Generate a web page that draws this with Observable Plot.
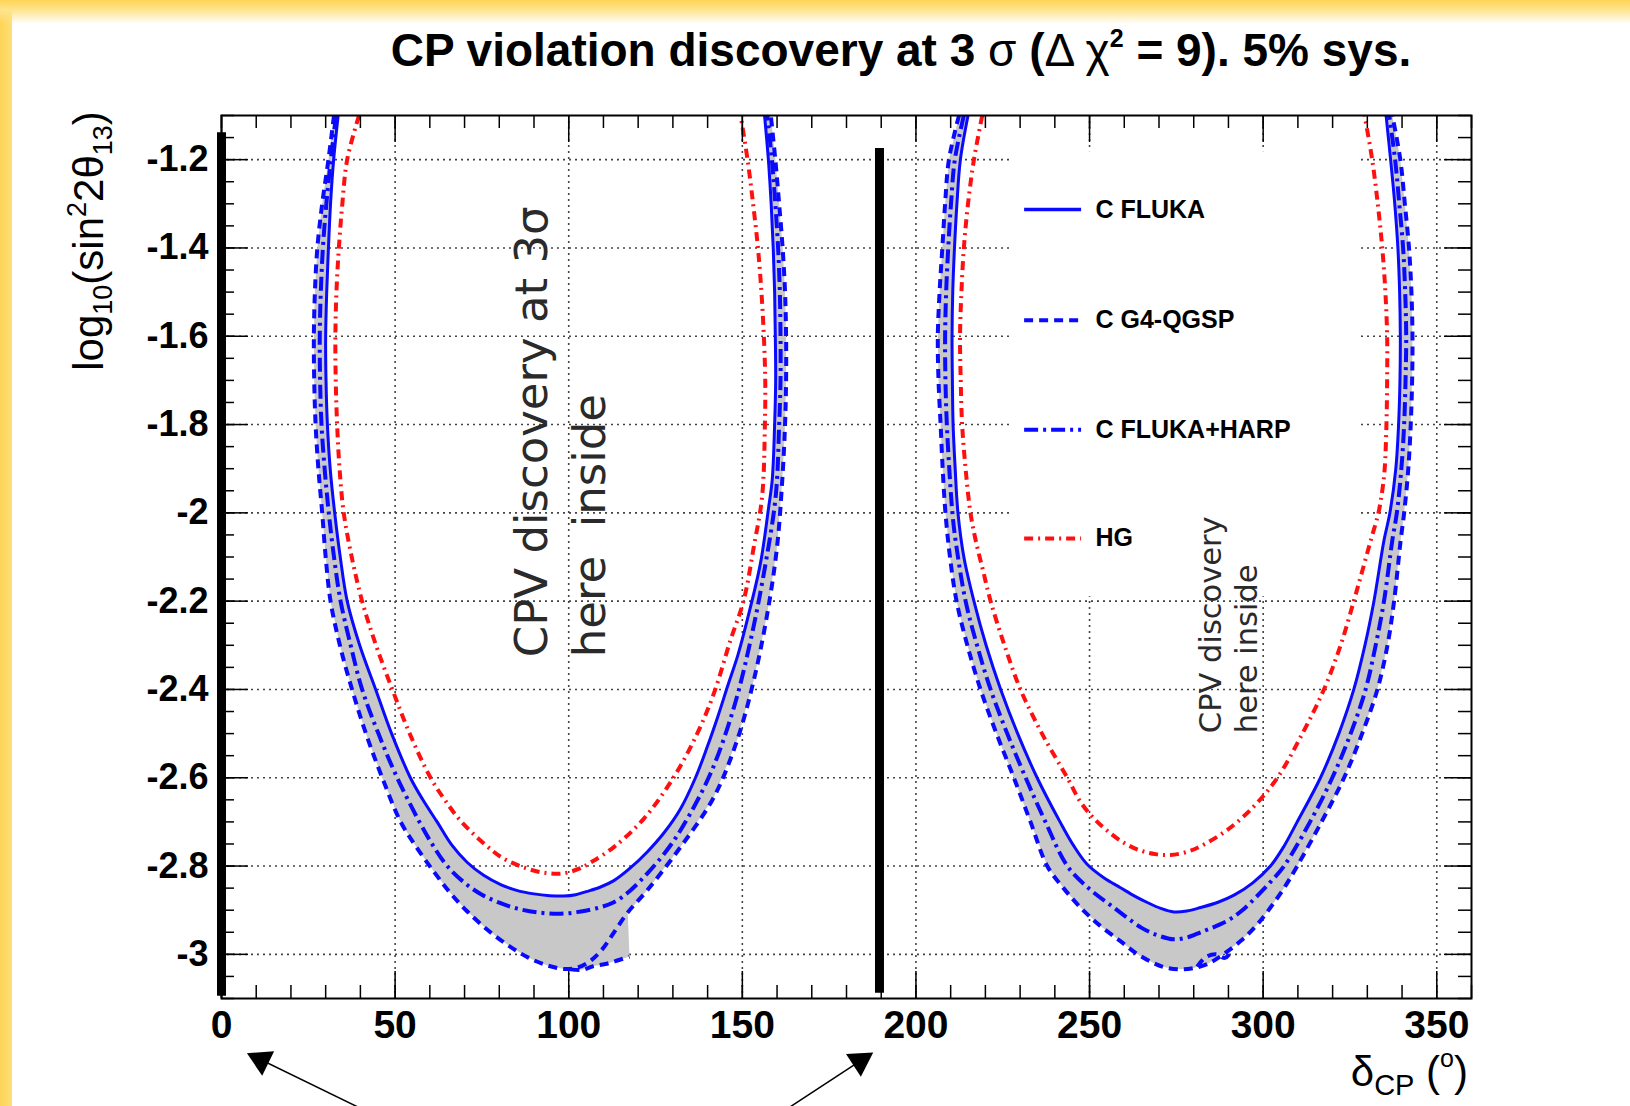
<!DOCTYPE html>
<html><head><meta charset="utf-8">
<script src="https://cdn.jsdelivr.net/npm/d3@7"></script>
<script src="https://cdn.jsdelivr.net/npm/@observablehq/plot@0.6"></script>
<style>
body{margin:0;background:#fff;}
#page{position:relative;width:1630px;height:1106px;overflow:hidden;background:#fff;font-family:"Liberation Sans",Arial,sans-serif;}
#bleft{position:absolute;left:0;top:0;width:12px;height:1106px;background:linear-gradient(to right,#fdd455,#fedf78);z-index:2;}
#btop{position:absolute;left:0;top:0;width:1630px;height:24px;background:linear-gradient(to bottom,#fdd455 0%,#fee48c 40%,rgba(255,255,255,0) 100%);z-index:2;}
#title{position:relative;height:90px;}
#title span{position:absolute;left:0;top:27px;width:1802px;text-align:center;font-size:46px;line-height:46px;font-weight:bold;color:#000;white-space:nowrap;}
#title .n{font-weight:normal;}
#title sup{font-size:25px;position:relative;top:-19px;vertical-align:baseline;}
#chart svg{display:block;}
</style></head>
<body>
<div id="page">
<div id="bleft"></div><div id="btop"></div>
<div id="title"><span>CP violation discovery at 3 <span class="n" style="position:static;font-size:46px">σ</span> (<span class="n" style="position:static;font-size:46px">Δ χ</span><sup>2</sup> = 9). 5% sys.</span></div>
<div id="chart"></div>
</div>
<script>
// ---------- data (δCP in degrees, log10(sin²2θ13)) ----------
const xTicks = [0, 50, 100, 150, 200, 250, 300, 350];
const yTicks = [-3, -2.8, -2.6, -2.4, -2.2, -2, -1.8, -1.6, -1.4, -1.2];
const xGrid = [50, 100, 150, 200, 250, 300, 350];
const yGrid = [-3, -2.8, -2.6, -2.4, -2.2, -2, -1.8, -1.6, -1.4, -1.2];

// C FLUKA (solid)
const flukaL = [[33.6,-1.1],[32.3,-1.2],[31.4,-1.3],[30.8,-1.4],[30.3,-1.5],[30.0,-1.6],[30.1,-1.7],[30.5,-1.8],[31.3,-1.9],[32.6,-2.0],[34.2,-2.1],[36.2,-2.2],[39.8,-2.3],[44.4,-2.4],[49.0,-2.5],[54.4,-2.6],[58.0,-2.65],[62.1,-2.7],[66.3,-2.752],[70.8,-2.792],[75.5,-2.821],[80.4,-2.842],[85.0,-2.855],[90.0,-2.863],[94.5,-2.867],[98.6,-2.868],[102,-2.865],[105,-2.858],[109,-2.848],[113,-2.833],[117.5,-2.806],[122.6,-2.768],[127.5,-2.724],[132.2,-2.67],[136.5,-2.6],[139.9,-2.53],[143,-2.46],[145.7,-2.394],[148.8,-2.32],[151.4,-2.243],[155.2,-2.115],[157.6,-1.986],[158.6,-1.926],[159.3,-1.8],[159.6,-1.7],[159.5,-1.6],[159.3,-1.5],[158.9,-1.4],[158.3,-1.3],[157.5,-1.2],[156.4,-1.1]];
const flukaR = [[215.0,-1.1],[212.8,-1.2],[211.8,-1.3],[211.1,-1.4],[210.6,-1.5],[210.4,-1.6],[210.5,-1.7],[210.7,-1.8],[211.3,-1.9],[212.1,-2.0],[213.8,-2.1],[216.7,-2.2],[220.2,-2.3],[224.4,-2.4],[229.3,-2.5],[234.9,-2.6],[241.5,-2.7],[245.5,-2.755],[249.3,-2.796],[254.0,-2.826],[258.9,-2.849],[263.0,-2.868],[266.5,-2.882],[270.5,-2.896],[274.3,-2.904],[278.0,-2.902],[282.0,-2.894],[287.0,-2.882],[291.6,-2.866],[297.0,-2.838],[302.1,-2.8],[306.0,-2.755],[309.8,-2.7],[316.5,-2.6],[321.8,-2.5],[326.1,-2.4],[329.3,-2.3],[331.9,-2.2],[334.8,-2.062],[336.5,-2.0],[338.2,-1.9],[339.0,-1.8],[339.4,-1.7],[339.5,-1.6],[339.3,-1.5],[338.8,-1.4],[337.9,-1.3],[336.7,-1.2],[335.4,-1.1]];

// C G4-QGSP (dashed)
const g4L = [[32.4,-1.1],[30.8,-1.2],[29.0,-1.3],[27.6,-1.4],[26.9,-1.5],[26.6,-1.6],[26.7,-1.7],[27.1,-1.8],[27.9,-1.9],[29.0,-2.0],[30.0,-2.1],[31.4,-2.2],[34.1,-2.3],[37.6,-2.4],[41.6,-2.5],[46.3,-2.6],[51.6,-2.7],[56.2,-2.758],[61.1,-2.812],[65.8,-2.86],[70.8,-2.903],[77.0,-2.947],[83.2,-2.983],[88.5,-3.008],[93.8,-3.025],[98.6,-3.033],[102.5,-3.03],[106,-3.016],[109.5,-2.99],[113,-2.951],[117,-2.905],[122.6,-2.855],[132.2,-2.757],[141.8,-2.644],[148.5,-2.515],[153.3,-2.379],[157.2,-2.228],[160,-2.077],[161.5,-1.926],[162.3,-1.8],[162.6,-1.7],[162.6,-1.6],[162.3,-1.5],[161.6,-1.4],[160.6,-1.3],[159.5,-1.2],[158.2,-1.1]];
const g4TailL = [[100.5,-3.034],[104,-3.035],[107,-3.027],[110.5,-3.022],[114,-3.014],[117.5,-3.005]];
const g4R = [[212.4,-1.1],[209.5,-1.2],[208.4,-1.3],[207.6,-1.4],[206.8,-1.5],[206.3,-1.6],[206.5,-1.7],[207.1,-1.8],[207.7,-1.9],[208.5,-2.0],[209.8,-2.1],[211.7,-2.2],[214.8,-2.3],[218.6,-2.4],[223.2,-2.5],[228.2,-2.6],[233.0,-2.7],[237.8,-2.8],[242.5,-2.85],[247.4,-2.894],[253.0,-2.935],[258.9,-2.970],[263.5,-2.998],[268.5,-3.02],[272.0,-3.03],[276.2,-3.034],[280.0,-3.031],[283.9,-3.022],[288.5,-3.0],[293.5,-2.970],[298.0,-2.935],[302.1,-2.894],[306.0,-2.85],[309.8,-2.8],[316.8,-2.7],[323.3,-2.6],[328.5,-2.5],[332.9,-2.4],[335.8,-2.3],[337.7,-2.2],[339.6,-2.062],[340.6,-2.0],[341.8,-1.9],[342.5,-1.8],[342.9,-1.7],[343.0,-1.6],[342.7,-1.5],[342.0,-1.4],[340.8,-1.3],[339.5,-1.2],[337.2,-1.1]];
const g4TailR = [[281.0,-3.028],[283.5,-3.006],[286.5,-3.0],[289.0,-3.008],[291.0,-2.992]];

// C FLUKA+HARP (dash-dot)
const harpL = [[33.0,-1.1],[31.5,-1.2],[30.2,-1.3],[29.2,-1.4],[28.6,-1.5],[28.3,-1.6],[28.4,-1.7],[28.8,-1.8],[29.7,-1.9],[30.9,-2.0],[32.4,-2.1],[34.3,-2.2],[37.2,-2.3],[40.5,-2.4],[45.2,-2.5],[50.6,-2.6],[57.0,-2.7],[60.8,-2.752],[65.0,-2.8],[70.0,-2.838],[75.0,-2.865],[80.0,-2.883],[85.0,-2.896],[91.0,-2.905],[97.6,-2.908],[103.5,-2.903],[109.2,-2.893],[113,-2.882],[117.5,-2.857],[122.6,-2.817],[127.5,-2.772],[132.2,-2.719],[140.8,-2.591],[147.6,-2.44],[152.4,-2.288],[156.2,-2.137],[159.6,-1.963],[160.6,-1.8],[161.0,-1.7],[161.0,-1.6],[160.8,-1.5],[160.3,-1.4],[159.5,-1.3],[158.5,-1.2],[157.2,-1.1]];
const harpR = [[213.8,-1.1],[211.2,-1.2],[210.1,-1.3],[209.3,-1.4],[208.7,-1.5],[208.4,-1.6],[208.5,-1.7],[208.9,-1.8],[209.6,-1.9],[210.5,-2.0],[211.4,-2.062],[214.3,-2.2],[217.6,-2.3],[221.5,-2.4],[226.3,-2.5],[231.6,-2.6],[237.3,-2.7],[243.6,-2.8],[250.0,-2.852],[257.0,-2.894],[265.0,-2.94],[270.0,-2.958],[274.3,-2.966],[278.0,-2.962],[282.0,-2.95],[289.7,-2.924],[294.0,-2.9],[298.0,-2.87],[302.0,-2.837],[306.0,-2.8],[313.5,-2.7],[319.9,-2.6],[325.2,-2.5],[329.5,-2.4],[332.4,-2.3],[334.8,-2.2],[337.2,-2.062],[338.5,-2.0],[339.8,-1.9],[340.6,-1.8],[341.0,-1.7],[341.2,-1.6],[340.9,-1.5],[340.3,-1.4],[339.2,-1.3],[338.0,-1.2],[336.3,-1.1]];

// HG (red dash-dot-dot)
const hgL = [[39.6,-1.1],[36.2,-1.2],[34.8,-1.3],[33.8,-1.4],[33.1,-1.5],[32.8,-1.6],[32.9,-1.7],[33.3,-1.8],[34.0,-1.9],[35.2,-2.0],[37.5,-2.1],[40.5,-2.2],[44.5,-2.3],[49.2,-2.4],[54.2,-2.5],[60.2,-2.6],[64.3,-2.65],[68.8,-2.697],[76.0,-2.752],[81.0,-2.782],[86.0,-2.8],[92.0,-2.814],[98.0,-2.817],[103,-2.806],[106.3,-2.792],[113,-2.757],[121.6,-2.693],[130.3,-2.598],[137,-2.5],[141.8,-2.409],[146.6,-2.288],[150.4,-2.198],[153.3,-2.077],[155.7,-1.963],[156.5,-1.8],[156.6,-1.7],[156.2,-1.6],[155.5,-1.5],[154.5,-1.4],[153.1,-1.3],[151.5,-1.2],[149.5,-1.1]];
const hgR = [[219.1,-1.1],[216.7,-1.2],[215.0,-1.3],[213.8,-1.4],[213.1,-1.5],[212.7,-1.6],[212.9,-1.7],[213.3,-1.8],[214.3,-1.9],[215.7,-2.0],[217.2,-2.062],[219.3,-2.13],[221.5,-2.2],[225.5,-2.3],[230.1,-2.4],[236.3,-2.5],[243.6,-2.6],[247.4,-2.655],[251.0,-2.69],[255.1,-2.72],[260.0,-2.748],[264.7,-2.765],[269.0,-2.773],[273.3,-2.775],[278.0,-2.768],[282.0,-2.755],[289.7,-2.718],[297.3,-2.665],[304.1,-2.6],[311.3,-2.5],[317.5,-2.4],[322.3,-2.3],[326.1,-2.2],[328.6,-2.13],[331.0,-2.062],[333.2,-2.0],[334.3,-1.95],[335.0,-1.9],[335.5,-1.8],[335.7,-1.7],[335.7,-1.6],[335.2,-1.5],[334.3,-1.4],[333.0,-1.3],[331.4,-1.2],[329.2,-1.1]];

// legend entries
const legendNames = ["C FLUKA", "C G4-QGSP", "C FLUKA+HARP", "HG"];
const legendRowY = [-1.313, -1.564, -1.812, -2.058];

// vertical black markers (δCP = 0 and ≈190)
const markerX = [0, 189.5];
const markerTop = [-1.139, -1.175];
const markerBottom = [-3.095, -3.088];

// annotations
const noteBig = ["CPV discovery at 3σ", "here  inside"];
const noteSmall = ["CPV discovery", "here inside"];

// ---------- layout ----------
const W = 1630, H = 1016, mT = 25, mB = 108, mL = 221, mR = 159;
const plotH = H - mT - mB, plotW = W - mL - mR;
const BLUE = "#0a0aff", RED = "#ff1010", GRAY = "#c8c8c8";

const rows = (arr, lobe) => arr.map(([x, y]) => ({x, y, lobe}));
const fluka = [...rows(flukaL, "L"), ...rows(flukaR, "R")];
const g4 = [...rows(g4L, "L"), ...rows(g4R, "R"), ...rows(g4TailL, "TL"), ...rows(g4TailR, "TR")];
const harp = [...rows(harpL, "L"), ...rows(harpR, "R")];
const hg = [...rows(hgL, "L"), ...rows(hgR, "R")];

// grey band between the outer dashed contour (incl. its lower tail) and the solid contour
const iMin = g4L.findIndex(p => p[0] === 98.6);
const iUp = g4L.findIndex(p => p[0] === 117);
const edgeL = [...g4L.slice(0, iMin + 1), ...g4TailL, ...g4L.slice(iUp)];
const band = [...rows([...edgeL, ...flukaL.slice().reverse()], "L"), ...rows([...g4R, ...flukaR.slice().reverse()], "R")];

const legend = legendNames.map((name, i) => ({name, y: legendRowY[i]}));
const legX1 = 231.3, legX2 = 247.7, legTX = 251.7;
const markers = markerX.map((x, i) => ({x, y1: markerTop[i], y2: markerBottom[i]}));
const xMinor = d3.range(0, 37).map(i => i * 10);
const yMinor = d3.range(0, 41).map(i => -3.1 + i * 0.05);
const arrows = [{x1: 45.6, y1: -3.37, x2: 8.84, y2: -3.229, hx: 11.4, hy: -3.2395, rot: -64},
                {x1: 159.0, y1: -3.37, x2: 186.4, y2: -3.229, hx: 183.9, hy: -3.2419, rot: 57}];

const line = (data, o) => Plot.line(data, {x: "x", y: "y", z: "lobe", curve: "catmull-rom", clip: true, strokeLinecap: "butt", ...o});
const grid = {stroke: "#444", strokeWidth: 1.6, strokeDasharray: "2,4"};

const chart = Plot.plot({
  width: W, height: H, marginTop: mT, marginBottom: mB, marginLeft: mL, marginRight: mR,
  style: {fontFamily: "Liberation Sans, Arial, sans-serif", fontSize: "36px", fontWeight: "bold", background: "transparent", color: "#000"},
  x: {domain: [0, 360], ticks: xTicks, tickSize: 0, tickPadding: 12, tickFormat: d => String(d), label: null},
  y: {domain: [-3.1, -1.1], ticks: yTicks, tickSize: 0, tickPadding: 13, tickFormat: d => String(+(+d).toFixed(1)), label: null},
  marks: [
    Plot.ruleX(xGrid, grid),
    Plot.ruleY(yGrid, grid),
    Plot.line(band, {x: "x", y: "y", z: "lobe", fill: GRAY, stroke: "none", curve: "linear", clip: true}),
    Plot.rect([0], {x1: () => 228, x2: () => 327.6, y1: () => -1.182, y2: () => -2.19, fill: "white"}),
    line(hg, {stroke: RED, strokeWidth: 4, strokeDasharray: "9,5,2,5"}),
    line(g4, {stroke: BLUE, strokeWidth: 4, strokeDasharray: "9,6"}),
    line(harp, {stroke: BLUE, strokeWidth: 4, strokeDasharray: "14,5,3,5"}),
    line(fluka, {stroke: BLUE, strokeWidth: 3}),
    // legend
    Plot.ruleY([legend[0]], {y: "y", x1: () => legX1, x2: () => legX2, stroke: BLUE, strokeWidth: 3.5}),
    Plot.ruleY([legend[1]], {y: "y", x1: () => legX1, x2: () => legX2, stroke: BLUE, strokeWidth: 4, strokeDasharray: "9,6"}),
    Plot.ruleY([legend[2]], {y: "y", x1: () => legX1, x2: () => legX2, stroke: BLUE, strokeWidth: 4, strokeDasharray: "14,5,3,5"}),
    Plot.ruleY([legend[3]], {y: "y", x1: () => legX1, x2: () => legX2, stroke: RED, strokeWidth: 4, strokeDasharray: "9,5,2,5"}),
    Plot.text(legend, {x: () => legTX, y: "y", text: "name", textAnchor: "start", fontSize: 25, fontWeight: "bold", fill: "#000"}),
    // annotations
    Plot.text(noteBig, {x: (d, i) => [89.7, 106.4][i], y: () => -2.327, text: d => d, rotate: -90, textAnchor: "start", lineAnchor: "middle", fontFamily: "DejaVu Sans", fontSize: 45, fontWeight: "normal", fill: "#2a2a2a"}),
    Plot.text(noteSmall, {x: (d, i) => [285.0, 295.5][i], y: () => -2.499, text: d => d, rotate: -90, textAnchor: "start", lineAnchor: "middle", fontFamily: "DejaVu Sans", fontSize: 30.5, fontWeight: "normal", fill: "#2a2a2a"}),
    // black markers
    Plot.ruleX(markers, {x: "x", y1: "y1", y2: "y2", stroke: "#000", strokeWidth: 9}),
    // ticks (inward, all four sides)
    Plot.ruleX(xTicks, {insetBottom: plotH - 27, stroke: "#000", strokeWidth: 1.5}),
    Plot.ruleX(xTicks, {insetTop: plotH - 27, stroke: "#000", strokeWidth: 1.5}),
    Plot.ruleX(xMinor, {insetBottom: plotH - 13, stroke: "#000", strokeWidth: 1.5}),
    Plot.ruleX(xMinor, {insetTop: plotH - 13, stroke: "#000", strokeWidth: 1.5}),
    Plot.ruleY(yTicks, {insetRight: plotW - 27, stroke: "#000", strokeWidth: 1.5}),
    Plot.ruleY(yTicks, {insetLeft: plotW - 27, stroke: "#000", strokeWidth: 1.5}),
    Plot.ruleY(yMinor, {insetRight: plotW - 13, stroke: "#000", strokeWidth: 1.5}),
    Plot.ruleY(yMinor, {insetLeft: plotW - 13, stroke: "#000", strokeWidth: 1.5}),
    Plot.frame({stroke: "#000", strokeWidth: 2}),
    // arrows pointing at the markers
    Plot.link(arrows, {x1: "x1", y1: "y1", x2: "x2", y2: "y2", stroke: "#000", strokeWidth: 1.5}),
    Plot.dot(arrows, {x: "hx", y: "hy", symbol: "triangle2", r: 13, rotate: "rot", fill: "#000", stroke: "none"})
  ]
});
document.getElementById("chart").appendChild(chart);

const svg = d3.select(chart);
svg.selectAll('[aria-label^="x-axis"] text').attr("font-size", 39).attr("font-weight", "bold");
svg.selectAll('[aria-label^="y-axis"] text').attr("font-size", 36).attr("font-weight", "bold");

// y axis title: log10(sin²2θ13)
const yl = svg.append("text").attr("transform", "translate(103,151) rotate(-90)")
  .attr("text-anchor", "middle").attr("font-size", 42).attr("font-weight", "normal").attr("fill", "#000");
yl.append("tspan").text("log");
yl.append("tspan").attr("font-size", 27).attr("dy", 9).text("10");
yl.append("tspan").attr("dy", -9).text("(sin");
yl.append("tspan").attr("font-size", 27).attr("dy", -17).text("2");
yl.append("tspan").attr("dy", 17).text("2θ");
yl.append("tspan").attr("font-size", 27).attr("dy", 9).text("13");
yl.append("tspan").attr("dy", -9).text(")");

// x axis title: δCP (°)
const xl = svg.append("text").attr("transform", "translate(1468,996)")
  .attr("text-anchor", "end").attr("font-size", 42).attr("font-weight", "normal").attr("fill", "#000");
xl.append("tspan").text("δ");
xl.append("tspan").attr("font-size", 29).attr("dy", 9).text("CP");
xl.append("tspan").attr("dy", -9).text(" (");
xl.append("tspan").attr("font-size", 25).attr("dy", -19).text("o");
xl.append("tspan").attr("dy", 19).text(")");
</script>
</body></html>
